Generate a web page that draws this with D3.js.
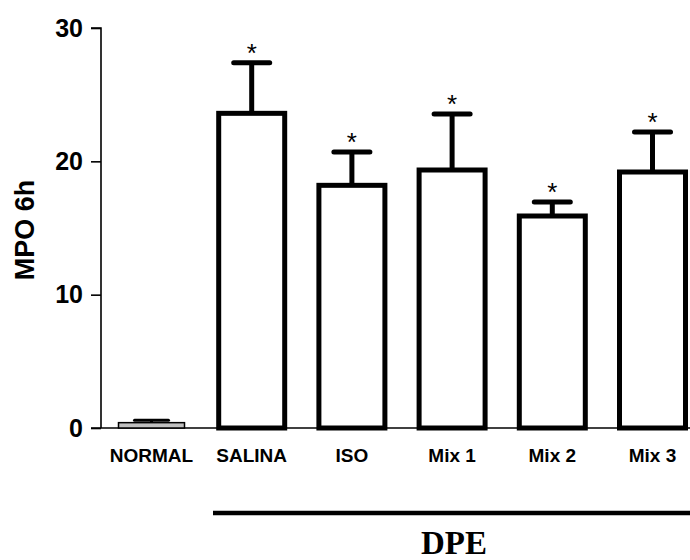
<!DOCTYPE html>
<html><head><meta charset="utf-8">
<script src="https://cdn.jsdelivr.net/npm/d3@7"></script>
<style>body{margin:0;background:#fff}svg{display:block}</style>
</head><body>
<script>
const categories = ["NORMAL","SALINA","ISO","Mix 1","Mix 2","Mix 3"];
const means = [0.4, 23.6, 18.2, 19.35, 15.9, 19.2];
const errors = [0.18, 3.8, 2.5, 4.2, 1.05, 3.0];
const significant = [false, true, true, true, true, true];
const yTicks = [0, 10, 20, 30];
const groupLabel = "DPE";
const yLabel = "MPO 6h";

const W = 690, H = 560;
const svg = d3.select("body").append("svg").attr("width", W).attr("height", H);
const font = "Arial, 'Liberation Sans', sans-serif";

const y = d3.scaleLinear().domain([0, 30]).range([428, 28]);
const x = d3.scalePoint().domain(categories).range([151.5, 652.5]);
const barW = 66, capW = 36;

// y axis
const yAxis = svg.append("g").attr("transform", "translate(101,0)")
  .call(d3.axisLeft(y).tickValues(yTicks).tickSize(10).tickPadding(8).tickFormat(d3.format("d")));
yAxis.select(".domain").attr("stroke-width", 1.6).attr("d", `M-10,${y(30)}H0V${y(0)}`);
yAxis.selectAll(".tick line").attr("stroke-width", 1.6);
yAxis.selectAll(".tick text").attr("font-family", font).attr("font-weight", "bold").attr("font-size", 25).attr("fill", "#000");

// x axis baseline
svg.append("line").attr("x1", 91).attr("x2", 690).attr("y1", y(0)).attr("y2", y(0))
  .attr("stroke", "#000").attr("stroke-width", 1.6);

const data = categories.map((c, i) => ({c, m: means[i], e: errors[i], s: significant[i], i}));

const g = svg.append("g");
// error bars
data.forEach(d => {
  const cx = x(d.c);
  const sw = d.i === 0 ? 3 : 5;
  const cw = d.i === 0 ? 34 : capW;
  g.append("line").attr("x1", cx).attr("x2", cx).attr("y1", y(d.m)).attr("y2", y(d.m + d.e))
    .attr("stroke", "#000").attr("stroke-width", sw);
  g.append("line").attr("x1", cx - cw/2).attr("x2", cx + cw/2).attr("y1", y(d.m + d.e)).attr("y2", y(d.m + d.e))
    .attr("stroke", "#000").attr("stroke-width", sw).attr("stroke-linecap", "round");
  if (d.s) {
    g.append("text").attr("x", cx).attr("y", y(d.m + d.e) - 1).attr("text-anchor", "middle")
      .attr("font-family", font).attr("font-size", 26).attr("fill", "#000").text("*");
  }
});
// bars
g.selectAll("rect.bar").data(data).enter().append("rect")
  .attr("x", d => x(d.c) - barW/2)
  .attr("y", d => y(d.m))
  .attr("width", barW)
  .attr("height", d => y(0) - y(d.m))
  .attr("fill", d => d.i === 0 ? "#c0c0c0" : "#fff")
  .attr("stroke", "#000")
  .attr("stroke-width", d => d.i === 0 ? 1.5 : 5);

// x labels
svg.selectAll("text.xl").data(categories).enter().append("text")
  .attr("x", d => x(d)).attr("y", 462).attr("text-anchor", "middle")
  .attr("font-family", font).attr("font-weight", "bold").attr("font-size", 19).attr("fill", "#000")
  .text(d => d);

// group line
svg.append("line").attr("x1", 213).attr("x2", 690).attr("y1", 513).attr("y2", 513)
  .attr("stroke", "#000").attr("stroke-width", 4.5);
svg.append("text").attr("x", 454).attr("y", 554).attr("text-anchor", "middle")
  .attr("font-family", "'Times New Roman', 'Liberation Serif', serif").attr("font-weight", "bold")
  .attr("font-size", 33).attr("fill", "#000").text(groupLabel);

// y label
svg.append("text").attr("transform", "translate(34,230) rotate(-90)").attr("text-anchor", "middle")
  .attr("font-family", font).attr("font-weight", "bold").attr("font-size", 27).attr("fill", "#000").text(yLabel);
</script>
</body></html>
